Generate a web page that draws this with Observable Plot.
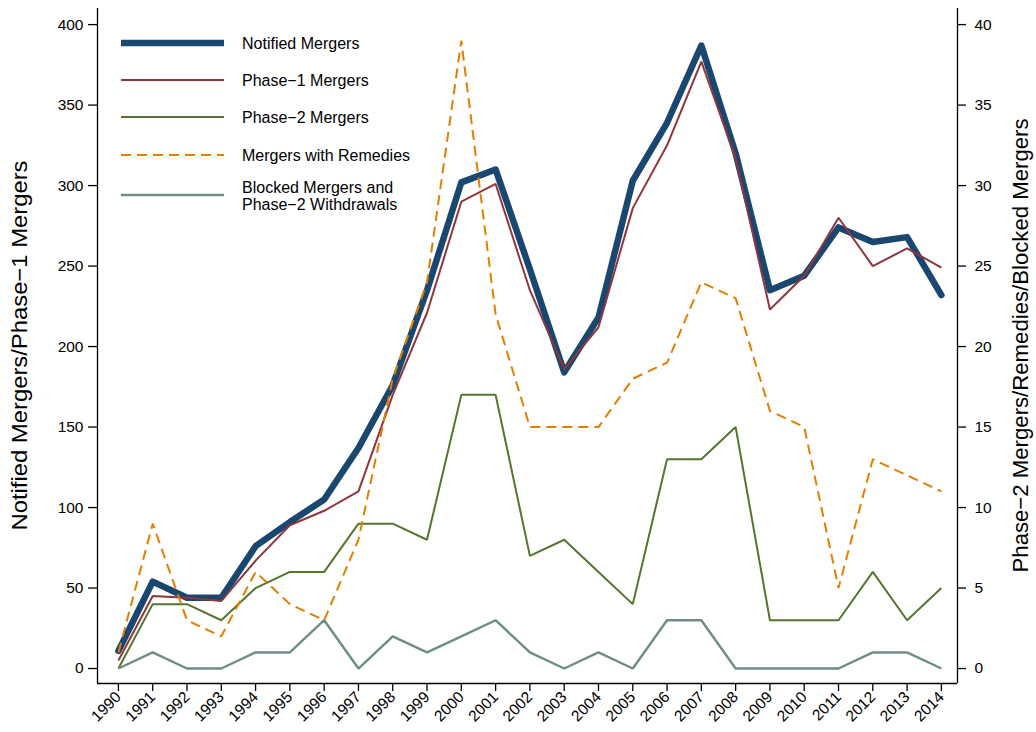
<!DOCTYPE html>
<html>
<head>
<meta charset="utf-8">
<script src="https://cdn.jsdelivr.net/npm/d3@7"></script>
<script src="https://cdn.jsdelivr.net/npm/@observablehq/plot@0.6"></script>
<style>
  html, body { margin: 0; padding: 0; background: #fff; }
  #chart { position: relative; width: 1036px; height: 732px; }
  svg { font-family: "Liberation Sans", Arial, Helvetica, sans-serif; }
</style>
</head>
<body>
<div id="chart"></div>
<script>
// ---- data ----
const years = [1990,1991,1992,1993,1994,1995,1996,1997,1998,1999,2000,2001,2002,2003,2004,2005,2006,2007,2008,2009,2010,2011,2012,2013,2014];
const notified = [11,54,44,44,76,91,105,137,176,235,302,310,248,184,218,303,339,387,320,235,244,274,265,268,232];
const phase1   = [5,45,44,42,67,89,98,110,170,221,290,301,235,186,212,286,325,377,317,223,244,280,250,261,249];
const phase2   = [0,4,4,3,5,6,6,9,9,8,17,17,7,8,6,4,13,13,15,3,3,3,6,3,5];
const remedies = [1,9,3,2,6,4,3,8,18,24,39,22,15,15,15,18,19,24,23,16,15,5,13,12,11];
const blocked  = [0,1,0,0,1,1,3,0,2,1,2,3,1,0,1,0,3,3,0,0,0,0,1,1,0];

const leftTicks = [0,50,100,150,200,250,300,350,400];
const rightTicks = [0,5,10,15,20,25,30,35,40];
const leftTitle = "Notified Mergers/Phase\u22121 Mergers";
const rightTitle = "Phase\u22122 Mergers/Remedies/Blocked Mergers";

const seriesNames = ["Notified Mergers","Phase\u22121 Mergers","Phase\u22122 Mergers","Mergers with Remedies","Blocked Mergers and|Phase\u22122 Withdrawals"];
const colors = ["#1a476f","#90353b","#55752f","#e37e00","#6e8e84"];
const widths = [6.5,2,2,2,2.4];
const dashes = [null,null,null,"10,6",null];

// right-axis series are drawn on the left scale with factor 10
const ratio = 10;
const rows = (vals, k) => years.map((yr, i) => ({year: yr, v: vals[i] * k}));
const dataSets = [rows(notified,1), rows(phase1,1), rows(phase2,ratio), rows(remedies,ratio), rows(blocked,ratio)];

const xDomain = [1989.39, 2014.47];
const yDomain = [-9.3, 410];

const marks = [];
dataSets.forEach((d, i) => {
  marks.push(Plot.line(d, {x: "year", y: "v", stroke: colors[i], strokeWidth: widths[i],
    strokeDasharray: dashes[i] || undefined, strokeLinejoin: i === 0 ? "round" : "miter", strokeLinecap: i===0 ? "round" : "butt"}));
});

// axes frame lines
marks.push(Plot.ruleX([xDomain[0]], {stroke: "#000", strokeWidth: 1.3}));
marks.push(Plot.ruleX([xDomain[1]], {stroke: "#000", strokeWidth: 1.3}));
marks.push(Plot.ruleY([yDomain[0]], {stroke: "#000", strokeWidth: 1.3}));

marks.push(Plot.axisY(leftTicks, {anchor: "left", tickSize: 9, tickPadding: 5, fontSize: 15.5, label: null, strokeWidth: 1.3}));
marks.push(Plot.axisY(rightTicks.map(t => t * ratio), {anchor: "right", tickSize: 8, tickPadding: 9, fontSize: 15.5, label: null,
  tickFormat: d => String(d / ratio), strokeWidth: 1.3}));
marks.push(Plot.axisX(years, {anchor: "bottom", tickSize: 8, tickPadding: 3, fontSize: 15.5, tickRotate: -45, label: null,
  tickFormat: d => String(d), strokeWidth: 1.3}));

const plot = Plot.plot({
  width: 1036,
  height: 732,
  marginLeft: 97,
  marginRight: 79,
  marginTop: 8,
  marginBottom: 49,
  x: {type: "linear", domain: xDomain},
  y: {type: "linear", domain: yDomain},
  style: {fontFamily: "'Liberation Sans', Arial, Helvetica, sans-serif", color: "#000", background: "#fff"},
  marks
});
document.getElementById("chart").appendChild(plot);

const svg = d3.select(plot);

// titles
svg.append("text")
  .attr("transform", "translate(27,345.5) rotate(-90)")
  .attr("text-anchor", "middle")
  .style("font-size", "22px")
  .attr("textLength", 370).attr("lengthAdjust", "spacingAndGlyphs")
  .attr("fill", "#000")
  .text(leftTitle);
svg.append("text")
  .attr("transform", "translate(1028,345.5) rotate(-90)")
  .attr("text-anchor", "middle")
  .style("font-size", "22px")
  .attr("textLength", 454).attr("lengthAdjust", "spacingAndGlyphs")
  .attr("fill", "#000")
  .text(rightTitle);

// legend
const leg = svg.append("g").attr("transform", "translate(121,43)");
const legY = [0, 37, 74, 112, 152];
seriesNames.forEach((name, i) => {
  const g = leg.append("g").attr("transform", `translate(0,${legY[i]})`);
  g.append("line").attr("x1", 0).attr("x2", 103).attr("y1", 0).attr("y2", 0)
    .attr("stroke", colors[i]).attr("stroke-width", widths[i])
    .attr("stroke-dasharray", dashes[i]);
  const parts = name.split("|");
  const t = g.append("text").attr("x", 121).style("font-size", "16px").attr("fill", "#000").attr("text-anchor", "start");
  if (parts.length === 1) {
    t.attr("y", 5.5).text(parts[0]);
  } else {
    t.append("tspan").attr("x", 121).attr("y", -2).text(parts[0]);
    t.append("tspan").attr("x", 121).attr("y", 14.5).text(parts[1]);
  }
});
</script>
</body>
</html>
